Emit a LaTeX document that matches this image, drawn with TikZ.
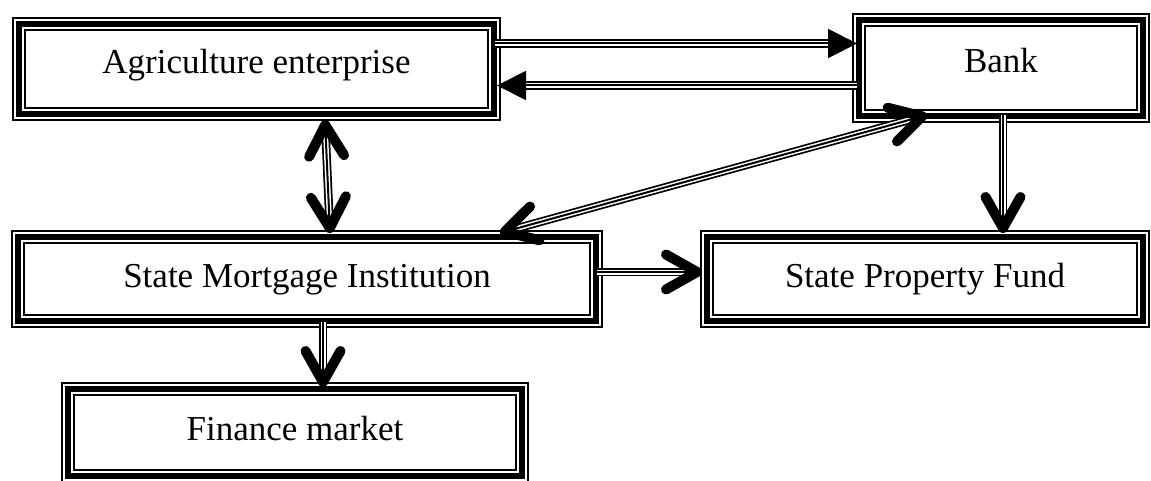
\documentclass[tikz,border=0pt]{standalone}
\usepackage{fontspec}
\setmainfont{Liberation Serif}
\usetikzlibrary{arrows.meta}
\tikzset{
  solidtip/.tip={Triangle[length=29pt,width=29pt]},
  barbtip/.tip={Straight Barb[length=31pt,width=35pt,line width=10pt,round]},
  box/.style={inner sep=0pt, outer sep=0pt, text height=24pt, text depth=14pt,
    font=\fontsize{35}{42}\selectfont},
  % three parallel strokes: wide black, white core, thin black centre line
  link/.style 2 args={line width=2pt,
    preaction={draw, arrows=-, line width=8.5pt, shorten <=#1, shorten >=#2},
    preaction={draw, arrows=-, white, line width=5pt, shorten <=#1, shorten >=#2}},
  rimout/.style={line width=1.8pt},
  rimmid/.style={line width=6pt},
  rimin/.style={line width=2pt},
}
\begin{document}
\begin{tikzpicture}[x=1pt,y=-1pt]
\useasboundingbox (0,0) rectangle (1151,481);
\clip (0,0) rectangle (1151,481);

% boxes
\node[box, minimum width=489pt, minimum height=104pt] (ag)   at (256.5,69) {Agriculture enterprise};
\node[box, minimum width=298pt, minimum height=110pt] (bank) at (1001,68)  {Bank};
\node[box, minimum width=592pt, minimum height=98pt, text depth=8pt] (smi) at (307,279) {State Mortgage Institution};
\node[box, minimum width=450pt, minimum height=98pt, text depth=8pt] (spf) at (925,279) {State Property Fund};
\node[box, minimum width=468pt, minimum height=101pt, text depth=9pt] (fm) at (295,432.5) {Finance market};

% thin-thick-thin frames
\foreach \n in {ag,bank,smi,spf,fm}{
  \draw[rimout] ([shift={(0.9,0.9)}]\n.north west) rectangle ([shift={(-0.9,-0.9)}]\n.south east);
  \draw[rimmid] ([shift={(7,7)}]\n.north west) rectangle ([shift={(-7,-7)}]\n.south east);
  \draw[rimin]  ([shift={(13,13)}]\n.north west) rectangle ([shift={(-13,-13)}]\n.south east);
}

% connectors
\draw[link={0pt}{26pt}, -solidtip] ([xshift=-6pt]ag.east |- 0,43.5) -- ([xshift=5pt]bank.west |- 0,43.5);
\draw[link={0pt}{26pt}, -solidtip] ([xshift=5pt]bank.west |- 0,85.5) -- ([xshift=-4pt]ag.east |- 0,85.5);
\draw[link={6pt}{6pt}, barbtip-barbtip] ([xshift=68.5pt,yshift=1pt]ag.south) -- ([xshift=23pt,yshift=-3pt]smi.north);
\draw[link={6pt}{6pt}, barbtip-barbtip] ([xshift=-74pt,yshift=8pt]bank.south) -- ([xshift=193pt,yshift=-3pt]smi.north);
\draw[link={0pt}{6pt}, -barbtip] ([xshift=2pt,yshift=8pt]bank.south) -- ([xshift=78pt,yshift=-3pt]spf.north);
\draw[link={0pt}{6pt}, -barbtip] ([xshift=-6pt,yshift=7pt]smi.east) -- ([xshift=2pt]spf.west |- 0,272);
\draw[link={0pt}{6pt}, -barbtip] ([xshift=16pt,yshift=6pt]smi.south) -- ([xshift=28pt,yshift=-5pt]fm.north);
\end{tikzpicture}
\end{document}
